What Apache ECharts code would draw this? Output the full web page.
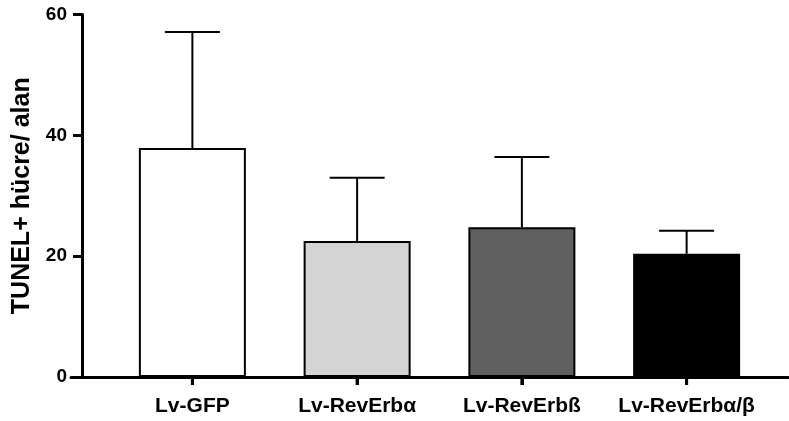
<!DOCTYPE html>
<html>
<head>
<meta charset="utf-8">
<script src="https://cdn.jsdelivr.net/npm/echarts@6/dist/echarts.min.js"></script>
<style>html,body{margin:0;padding:0;background:#fff}#c{width:789px;height:421px}</style>
</head>
<body>
<div id="c"></div>
<script>
var categories = ['Lv-GFP', 'Lv-RevErbα', 'Lv-RevErbß', 'Lv-RevErbα/β'];
var means = [37.9, 22.5, 24.8, 20.4];
var upperErr = [57.1, 33.0, 36.4, 24.2];
var barColors = ['#ffffff', '#d4d4d4', '#606060', '#000000'];
var yTicks = [0, 20, 40, 60];

var chart = echarts.init(document.getElementById('c'), null, {renderer: 'canvas'});
var FONT = 'Liberation Sans, Arial, Helvetica, sans-serif';

var barData = means.map(function (v, i) {
  return {value: v, itemStyle: {color: barColors[i]}};
});
var errData = means.map(function (v, i) { return [i, v, upperErr[i]]; });

chart.setOption({
  animation: false,
  backgroundColor: '#ffffff',
  grid: [
    {left: 110, width: 659, top: 14.5, bottom: 44, containLabel: false},
    {left: 71, right: 1, top: 14.5, bottom: 44, containLabel: false}
  ],
  xAxis: [
    {
      type: 'category', gridIndex: 0, data: categories, z: 5,
      axisLine: {show: true, lineStyle: {color: '#000', width: 3}},
      axisTick: {show: true, alignWithLabel: true, length: 8, lineStyle: {color: '#000', width: 3}},
      axisLabel: {interval: 0, color: '#000', fontSize: 21, fontWeight: 'bold', fontFamily: FONT, margin: 19},
      splitLine: {show: false}
    },
    {
      type: 'value', gridIndex: 1, min: 0, max: 1,
      axisLine: {show: true, lineStyle: {color: '#000', width: 3}},
      axisTick: {show: false}, axisLabel: {show: false}, splitLine: {show: false}
    }
  ],
  yAxis: [
    {
      type: 'value', gridIndex: 0, min: 0, max: 60, interval: 20, offset: 28,
      name: 'TUNEL+ hücre/ alan', nameLocation: 'middle', nameGap: 45,
      nameTextStyle: {color: '#000', fontSize: 25, fontWeight: 'bold', fontFamily: FONT},
      axisLine: {show: true, lineStyle: {color: '#000', width: 3}},
      axisTick: {show: true, length: 9, lineStyle: {color: '#000', width: 3}},
      axisLabel: {color: '#000', fontSize: 19, fontWeight: 'bold', fontFamily: FONT, margin: 15,
        formatter: function (v) { return yTicks.indexOf(v) >= 0 ? String(v) : ''; }},
      splitLine: {show: false}
    },
    {
      type: 'value', gridIndex: 1, min: 0, max: 1, show: false
    }
  ],
  series: [
    {
      type: 'bar', xAxisIndex: 0, yAxisIndex: 0, data: barData, barWidth: 107,
      itemStyle: {borderColor: '#000', borderWidth: 2},
      z: 2
    },
    {
      type: 'custom', xAxisIndex: 0, yAxisIndex: 0, data: errData, z: 6, clip: false,
      renderItem: function (params, api) {
        var base = api.coord([api.value(0), api.value(1)]);
        var top = api.coord([api.value(0), api.value(2)]);
        var zero = api.coord([api.value(0), 0]);
        var half = 27.5;
        return {
          type: 'group',
          children: [
            {type: 'line', shape: {x1: base[0], y1: base[1], x2: top[0], y2: top[1]},
              style: {stroke: '#000', lineWidth: 2}},
            {type: 'line', shape: {x1: top[0] - half, y1: top[1], x2: top[0] + half, y2: top[1]},
              style: {stroke: '#000', lineWidth: 2}},
            {type: 'line', shape: {x1: zero[0], y1: zero[1], x2: zero[0], y2: zero[1] + 8},
              style: {stroke: '#000', lineWidth: 3}}
          ]
        };
      }
    }
  ]
});
</script>
</body>
</html>
